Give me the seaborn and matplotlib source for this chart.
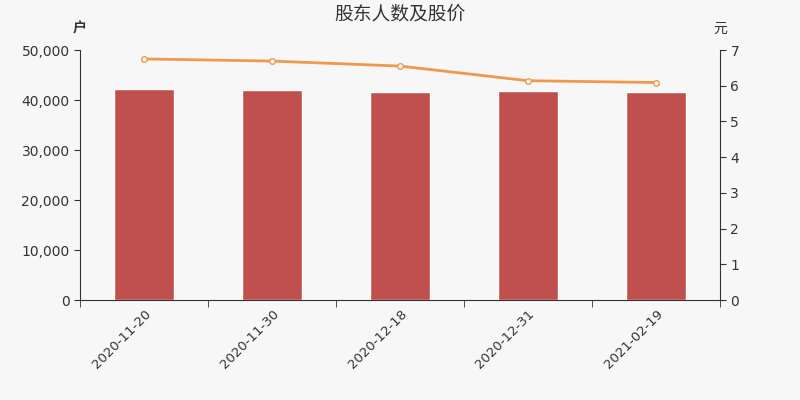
import matplotlib
matplotlib.use('Agg')
import matplotlib.pyplot as plt
import seaborn as sns
import pandas as pd
from matplotlib.ticker import FuncFormatter, FixedLocator

dates = ['2020-11-20', '2020-11-30', '2020-12-18', '2020-12-31', '2021-02-19']
holders = [42300, 41950, 41650, 41850, 41650]
price = [6.75, 6.69, 6.55, 6.14, 6.09]

sns.set_style('white')
plt.rcParams['font.family'] = ['DejaVu Sans', 'Noto Sans CJK SC']
cjk = ['Noto Sans CJK SC', 'DejaVu Sans']

bg = '#f7f7f7'
fig = plt.figure(figsize=(8, 4), dpi=100, facecolor=bg)
ax = fig.add_axes([0.1, 0.25, 0.8, 0.625])
ax.set_facecolor(bg)

df = pd.DataFrame({'date': dates, 'holders': holders, 'price': price})
sns.barplot(data=df, x='date', y='holders', color='#c0504d', width=0.47,
            saturation=1, ax=ax)
ax.set_xlim(-0.5, 4.5)
ax.set_ylim(0, 50000)
ax.set_yticks(range(0, 50001, 10000))
ax.yaxis.set_major_formatter(FuncFormatter(lambda v, p: f'{int(v):,}'))
ax.set_xlabel('')
ax.set_ylabel('')

ax2 = ax.twinx()
sns.lineplot(x=list(range(len(dates))), y=price, color='#f0994e', lw=2,
             marker='o', markersize=4, markerfacecolor='white',
             markeredgecolor='#f0994e', markeredgewidth=1, ax=ax2)
ax2.set_ylim(0, 7)
ax2.set_yticks(range(0, 8))

for a in (ax, ax2):
    a.spines['top'].set_visible(False)
    a.tick_params(colors='#333333', labelsize=10, length=4)
ax.spines['right'].set_visible(False)
ax2.spines['left'].set_visible(False)
ax2.spines['bottom'].set_visible(False)
ax.spines['left'].set_color('#333333')
ax.spines['bottom'].set_color('#333333')
ax2.spines['right'].set_color('#333333')
ax.tick_params(axis='y', left=True, length=4)
ax2.tick_params(axis='y', right=True, length=4)

ax.set_xticks(range(len(dates)))
ax.set_xticklabels(dates, rotation=45, ha='right', rotation_mode='anchor')
ax.tick_params(axis='x', which='major', length=0, pad=5, labelsize=9.5)
ax.xaxis.set_minor_locator(FixedLocator([i - 0.5 for i in range(len(dates) + 1)]))
ax.tick_params(axis='x', which='minor', bottom=True, length=5, color='#333333')

fig.text(0.5, 0.965, '股东人数及股价', ha='center', va='center', fontsize=13.5,
         color='#333333', family=cjk)
fig.text(0.1, 0.928, '户', ha='center', va='center', fontsize=10,
         color='#333333', family=cjk, weight='bold')
fig.text(0.9, 0.928, '元', ha='center', va='center', fontsize=10,
         color='#333333', family=cjk)

fig.savefig('out.png', dpi=100, facecolor=bg)
